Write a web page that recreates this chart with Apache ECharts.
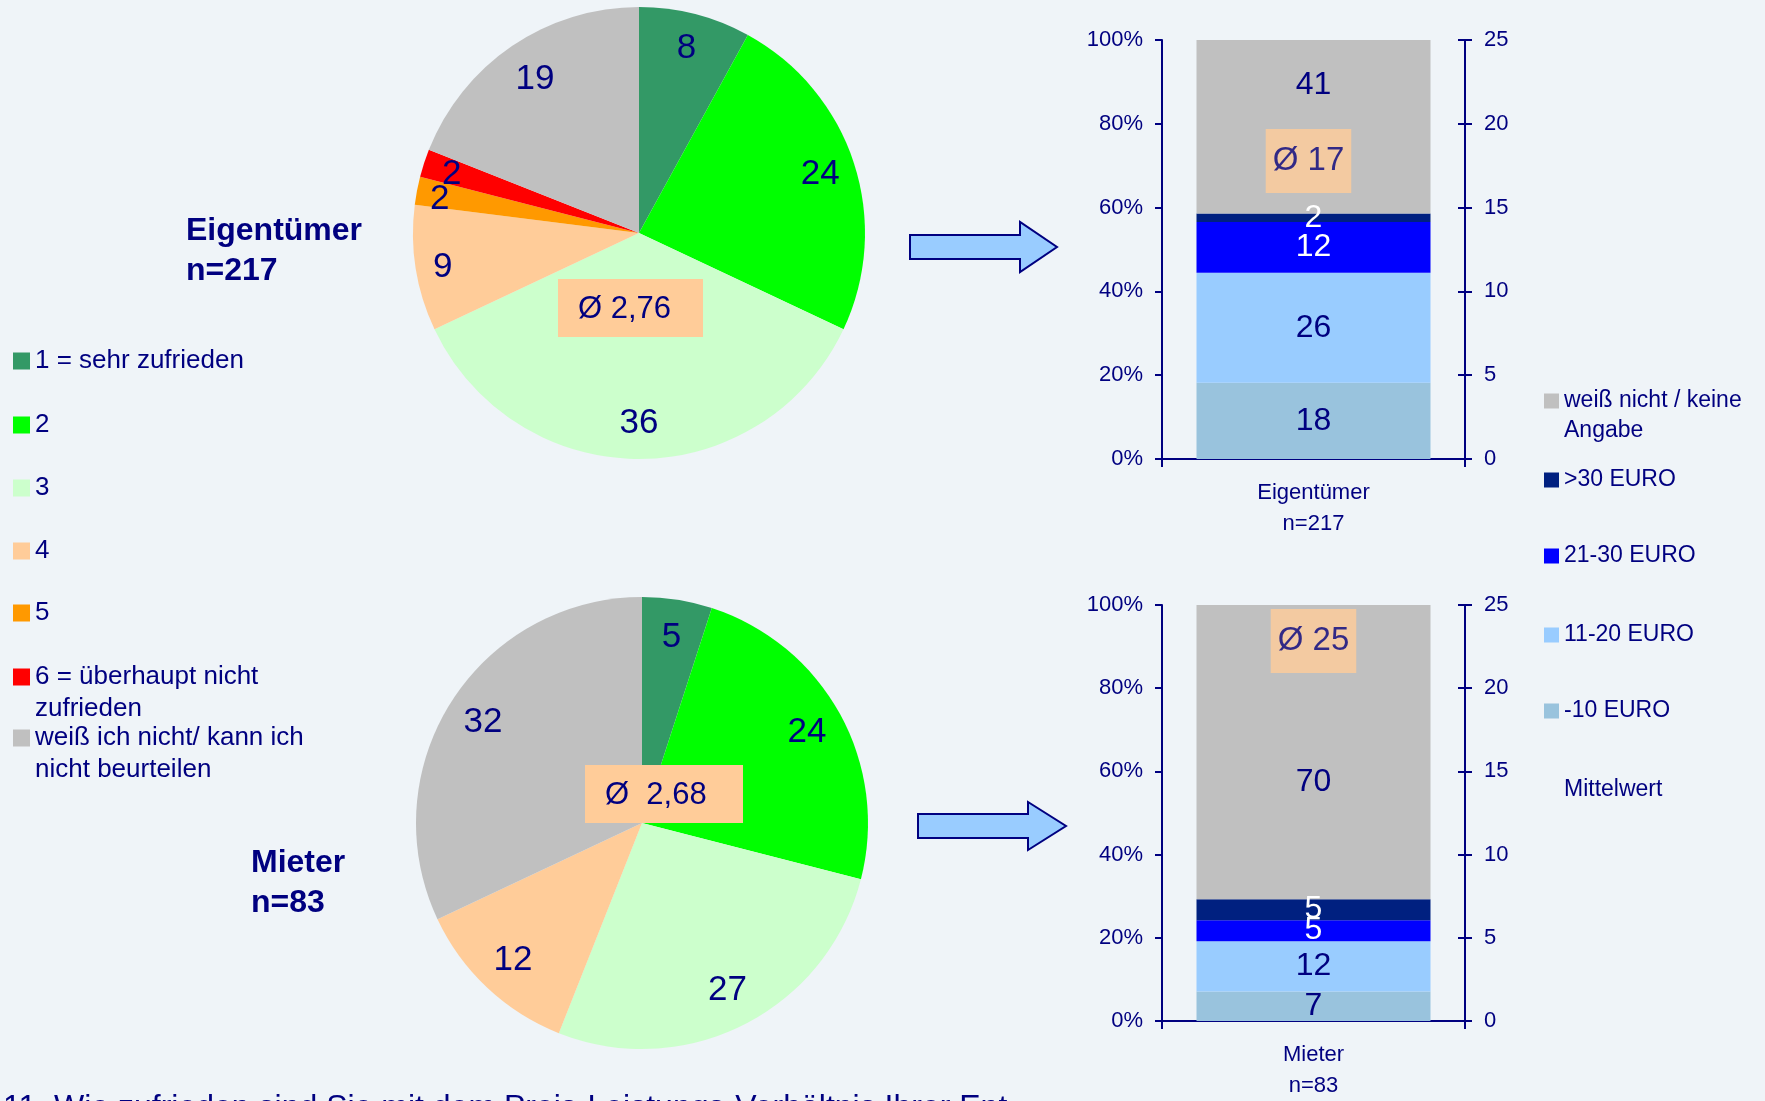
<!DOCTYPE html>
<html>
<head>
<meta charset="utf-8">
<script src="https://cdn.jsdelivr.net/npm/echarts@6/dist/echarts.min.js"></script>
<style>
html,body{margin:0;padding:0;background:#EFF4F8;}
#chart{width:1765px;height:1101px;}
</style>
</head>
<body>
<div id="chart"></div>
<script>
// ---------- data ----------
const pieCategories = ['1 = sehr zufrieden', '2', '3', '4', '5', '6 = überhaupt nicht zufrieden', 'weiß ich nicht/ kann ich nicht beurteilen'];
const pieLegendLabels = ['1 = sehr zufrieden', '2', '3', '4', '5', '6 = überhaupt nicht\nzufrieden', 'weiß ich nicht/ kann ich\nnicht beurteilen'];
const ownerSatisfaction = [8, 24, 36, 9, 2, 2, 19];
const tenantSatisfaction = [5, 24, 27, 12, 0, 0, 32];
const avgSatisfactionText = ['Ø 2,76', 'Ø  2,68'];
const groupTitles = ['Eigentümer\nn=217', 'Mieter\nn=83'];
const groupAxisLabels = ['Eigentümer\nn=217', 'Mieter\nn=83'];
const costCategories = ['-10 EURO', '11-20 EURO', '21-30 EURO', '>30 EURO', 'weiß nicht / keine Angabe'];
const costLegendOrder = ['weiß nicht / keine Angabe', '>30 EURO', '21-30 EURO', '11-20 EURO', '-10 EURO', 'Mittelwert'];
const costLegendLabels = {'weiß nicht / keine Angabe': 'weiß nicht / keine\nAngabe'};
const ownerCost = [18, 26, 12, 2, 41];
const tenantCost = [7, 12, 5, 5, 70];
const meanCost = [17, 25];
const percentTicks = {min: 0, max: 100, step: 20};
const euroTicks = {min: 0, max: 25, step: 5};
const questionText = '11. Wie zufrieden sind Sie mit dem Preis-Leistungs-Verhältnis Ihrer Ent';

// ---------- style ----------
const FONT = '"Liberation Sans", Arial, sans-serif';
const NAVY = '#000080';
const pieColors = ['#339966', '#00FF00', '#CCFFCC', '#FFCC99', '#FF9900', '#FF0000', '#C0C0C0'];
const barColors = ['#99C3DD', '#99CCFF', '#0000FF', '#002080', '#C0C0C0'];
const barLabelColors = [NAVY, NAVY, '#FFFFFF', '#FFFFFF', NAVY];

const chart = echarts.init(document.getElementById('chart'), null, {renderer: 'canvas'});

const pieCenters = [[639, 233], [642, 823]];
const pieR = 226;
const pieLabelInner = [0.66, 0.64];
// small extra label shifts for the narrow slices of the first pie (style only)
const pieLabelShift = [[[0, 0], [0, 0], [0, 0], [-8, 5], [-12, 2], [-6, 0], [3, 4]], [[0, 0], [0, 0], [0, 0], [0, 0], [0, 0], [0, 0], [0, 0]]];
const pieData = [ownerSatisfaction, tenantSatisfaction];

const series = [];
pieData.forEach((vals, k) => {
  series.push({
    type: 'pie', center: pieCenters[k], radius: [0, pieR], startAngle: 90, clockwise: true,
    color: pieColors, silent: true, animation: false,
    data: pieCategories.map((n, i) => ({name: n, value: vals[i]})),
    label: {show: false}, labelLine: {show: false}
  });
});
pieData.forEach((vals, k) => {
  series.push({
    type: 'pie', center: pieCenters[k], radius: [pieR * pieLabelInner[k], pieR], startAngle: 90, clockwise: true,
    silent: true, animation: false, avoidLabelOverlap: false, minShowLabelAngle: 0,
    labelLayout: p => ({hideOverlap: false, dx: pieLabelShift[k][p.dataIndex][0], dy: pieLabelShift[k][p.dataIndex][1]}),
    itemStyle: {color: 'rgba(0,0,0,0)'},
    data: pieCategories.map((n, i) => ({name: n, value: vals[i]})),
    label: {show: true, position: 'inside', color: NAVY, fontSize: 35, fontFamily: FONT,
      formatter: p => p.value ? String(p.value) : ''},
    labelLine: {show: false}, emphasis: {disabled: true}
  });
});

const costData = [ownerCost, tenantCost];
const grayOffsets = [-42, 30];
const meanOffsets = [[-5, -13], [0, 36]];
costData.forEach((vals, g) => {
  const total = vals.reduce((a, b) => a + b, 0);
  costCategories.forEach((n, i) => {
    series.push({
      type: 'bar', name: n, xAxisIndex: g, yAxisIndex: g * 3, stack: 'cost' + g,
      barWidth: 234, animation: false,
      itemStyle: {color: barColors[i]},
      data: [{value: vals[i] / total * 100, raw: vals[i]}],
      label: {show: true, position: 'inside', color: barLabelColors[i], fontSize: 32, fontFamily: FONT,
        offset: [0, i === 4 ? grayOffsets[g] : 0], formatter: p => String(p.data.raw)}
    });
  });
  series.push({
    type: 'scatter', name: 'Mittelwert', xAxisIndex: g, yAxisIndex: g * 3 + 1,
    data: [meanCost[g]], symbolSize: 1, itemStyle: {color: 'rgba(0,0,0,0)'}, animation: false, z: 5,
    label: {show: true, position: 'inside', formatter: p => 'Ø ' + p.value, color: NAVY, fontSize: 33,
      fontFamily: FONT, lineHeight: 34, backgroundColor: '#FFCC99', padding: [15, 7], offset: meanOffsets[g]}
  });
});

const gridTops = [40, 605];
const grids = gridTops.map(t => ({left: 1162, top: t, width: 303, height: 419}));
const xAxes = [0, 1].map(g => ({
  type: 'category', gridIndex: g, data: [groupAxisLabels[g]],
  axisLine: {show: true, lineStyle: {color: NAVY, width: 2}},
  axisTick: {show: true, length: 8, lineStyle: {color: NAVY, width: 2}},
  axisLabel: {color: NAVY, fontSize: 22, lineHeight: 31, fontFamily: FONT, margin: 18},
  splitLine: {show: false}
}));
const yAxes = [];
[0, 1].forEach(g => {
  yAxes.push({
    type: 'value', gridIndex: g, position: 'left', min: percentTicks.min, max: percentTicks.max, interval: percentTicks.step,
    axisLine: {show: true, lineStyle: {color: NAVY, width: 2}},
    axisTick: {show: true, length: 7, lineStyle: {color: NAVY, width: 2}},
    axisLabel: {formatter: '{value}%', color: NAVY, fontSize: 22, fontFamily: FONT, margin: 19},
    splitLine: {show: false}
  });
  yAxes.push({
    type: 'value', gridIndex: g, position: 'right', min: euroTicks.min, max: euroTicks.max, interval: euroTicks.step,
    axisLine: {show: true, lineStyle: {color: NAVY, width: 2}},
    axisTick: {show: true, length: 7, lineStyle: {color: NAVY, width: 2}},
    axisLabel: {color: NAVY, fontSize: 22, fontFamily: FONT, margin: 19},
    splitLine: {show: false}
  });
  yAxes.push({
    type: 'value', gridIndex: g, position: 'right', min: euroTicks.min, max: euroTicks.max, interval: euroTicks.step,
    axisLine: {show: false},
    axisTick: {show: true, inside: true, length: 7, lineStyle: {color: NAVY, width: 2}},
    axisLabel: {show: false}, splitLine: {show: false}
  });
});

// legends (two-line entries get a leading blank line so that the first line sits beside the icon)
const legends = [];
const pieLegendCenters = [361, 425, 488, 551, 613, 677, 738];
pieCategories.forEach((n, i) => {
  const two = pieLegendLabels[i].indexOf('\n') >= 0;
  legends.push({
    data: [n], left: 13, top: pieLegendCenters[i] - (two ? 48 : 16), padding: 0,
    icon: 'rect', itemWidth: 17, itemHeight: 17, selectedMode: false,
    formatter: () => (two ? '\n' : '') + pieLegendLabels[i],
    textStyle: {color: NAVY, fontSize: 26, fontFamily: FONT, lineHeight: 32}
  });
});
const costLegendCenters = [401, 480, 556, 635, 711, 790];
costLegendOrder.forEach((n, i) => {
  const lbl = costLegendLabels[n] || n;
  const two = lbl.indexOf('\n') >= 0;
  legends.push({
    data: [n === 'Mittelwert' ? {name: n, icon: 'none'} : n],
    left: 1544, top: costLegendCenters[i] - (two ? 45 : 15), padding: 0,
    icon: 'rect', itemWidth: 15, itemHeight: 15, selectedMode: false,
    formatter: () => (two ? '\n' : '') + lbl,
    textStyle: {color: NAVY, fontSize: 23, fontFamily: FONT, lineHeight: 30}
  });
});

const titles = [
  {text: groupTitles[0], left: 186, top: 211, padding: 0,
   textStyle: {color: NAVY, fontSize: 32, fontWeight: 'bold', fontFamily: FONT, lineHeight: 40}},
  {text: groupTitles[1], left: 251, top: 843, padding: 0,
   textStyle: {color: NAVY, fontSize: 32, fontWeight: 'bold', fontFamily: FONT, lineHeight: 40}}
];

function arrow(x0, x1, x2, yc, hs, hh) {
  return {type: 'polygon', shape: {points: [[x0, yc - hs], [x1, yc - hs], [x1, yc - hh], [x2, yc], [x1, yc + hh], [x1, yc + hs], [x0, yc + hs]]},
    style: {fill: '#99CCFF', stroke: NAVY, lineWidth: 2}};
}

const graphic = [
  arrow(910, 1020, 1057, 247, 12, 25),
  arrow(918, 1028, 1066, 826, 12, 24),
  {type: 'rect', shape: {x: 558, y: 279, width: 145, height: 58}, style: {fill: '#FFCC99'}, z: 10},
  {type: 'text', x: 578, y: 309, z: 11, style: {text: avgSatisfactionText[0], fill: NAVY, fontSize: 31, fontFamily: FONT, verticalAlign: 'middle', align: 'left'}},
  {type: 'rect', shape: {x: 585, y: 765, width: 158, height: 58}, style: {fill: '#FFCC99'}, z: 10},
  {type: 'text', x: 605, y: 795, z: 11, style: {text: avgSatisfactionText[1], fill: NAVY, fontSize: 31, fontFamily: FONT, verticalAlign: 'middle', align: 'left'}},
  {type: 'text', x: 3, y: 1108, style: {text: questionText, fill: NAVY, fontSize: 32, fontFamily: FONT, verticalAlign: 'middle', align: 'left'}}
];

chart.setOption({
  backgroundColor: '#EFF4F8',
  animation: false,
  textStyle: {fontFamily: FONT},
  title: titles,
  legend: legends,
  grid: grids,
  xAxis: xAxes,
  yAxis: yAxes,
  series: series,
  graphic: graphic
});
</script>
</body>
</html>
